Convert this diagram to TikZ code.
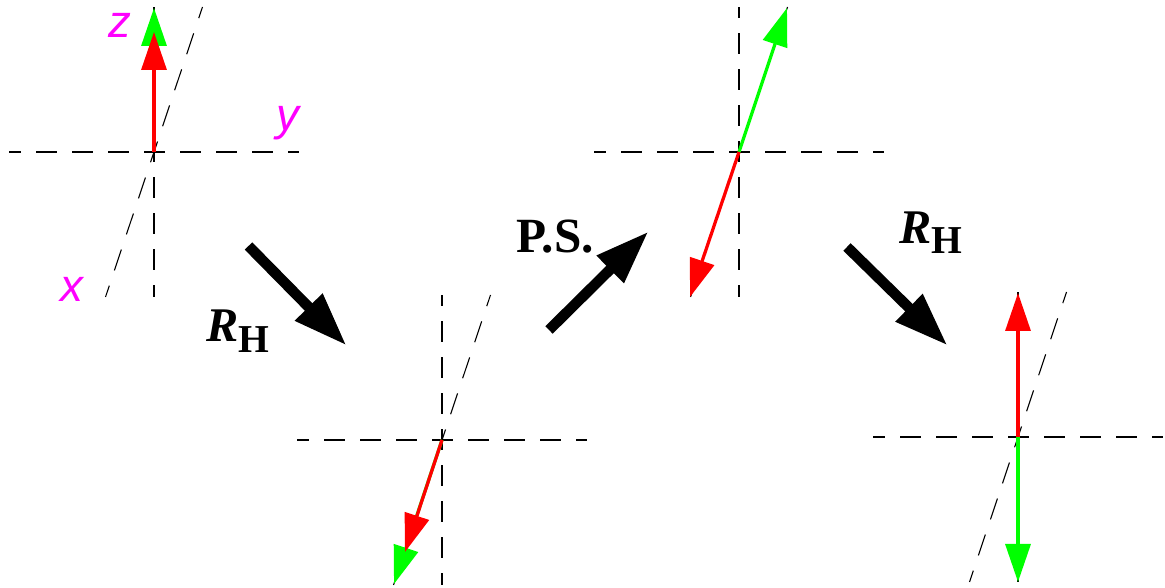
\documentclass[tikz,border=0pt]{standalone}
\usepackage{fontspec}
\setmainfont{Liberation Serif}
\setsansfont{Liberation Sans}
\usetikzlibrary{positioning,arrows.meta}
\definecolor{spinred}{RGB}{255,0,0}
\definecolor{spingreen}{RGB}{0,255,0}
\definecolor{axislabel}{RGB}{255,0,255}
\newcommand{\rhlabel}{\textbf{\textit{R}\raisebox{-6pt}{\fontsize{22.5}{22.5}\selectfont H}}}
\tikzset{
  axisline/.style={line width=0.022cm,dash pattern=on 0.42cm off 0.3cm,dash phase=0.18cm},
  obliqueline/.style={line width=0.022cm,dash pattern=on 0.44cm off 0.32cm,dash phase=0.2cm},
  redspin/.style={spinred,line width=0.065cm,-{Triangle[length=0.76cm,width=0.5cm]}},
  greenspin/.style={spingreen,line width=0.065cm,-{Triangle[length=0.76cm,width=0.5cm]}},
  bigarrow/.style={black,line width=0.21cm,-{Triangle[length=1.08cm,width=0.72cm]}},
  axisname/.style={text=axislabel,inner sep=0pt,font=\sffamily\itshape\fontsize{26}{26}\selectfont},
  oplabel/.style={inner sep=0pt,font=\fontsize{27.5}{27.5}\selectfont}
}
\begin{document}
\begin{tikzpicture}
  \useasboundingbox (0,0) rectangle (23.3,11.76);
  % origins of the four frames
  \coordinate (oA) at (3.08,8.72);
  \coordinate (oB) at (8.84,2.96);
  \coordinate (oC) at (14.78,8.72);
  \coordinate (oD) at (20.36,3.02);
  % dashed axes
  \foreach \frm in {oA,oB,oC,oD} {
    \draw[axisline] ([xshift=-2.9cm]\frm) -- ([xshift=2.9cm]\frm);
    \draw[axisline] ([yshift=-2.9cm]\frm) -- ([yshift=2.9cm]\frm);
    \draw[obliqueline] ([xshift=-0.97cm,yshift=-2.9cm]\frm) -- ([xshift=0.97cm,yshift=2.9cm]\frm);
  }
  % spin tips
  \coordinate (greenA) at (3.08,11.6);
  \coordinate (redA) at (3.08,11.12);
  \coordinate (greenB) at (7.88,0.08);
  \coordinate (redB) at (8.1,0.72);
  \coordinate (greenC) at (15.74,11.6);
  \coordinate (redC) at (13.8,5.82);
  \coordinate (greenD) at (20.36,0.12);
  \coordinate (redD) at (20.36,5.9);
  % spins
  \draw[greenspin] (oA) -- (greenA);
  \draw[redspin] (oA) -- (redA);
  \draw[greenspin] (oB) -- (greenB);
  \draw[redspin] (oB) -- (redB);
  \draw[greenspin] (oC) -- (greenC);
  \draw[redspin] (oC) -- (redC);
  \draw[greenspin] (oD) -- (greenD);
  \draw[redspin] (oD) -- (redD);
  % axis names
  \node[axisname] (nameZ) at (2.4,11.26) {z};
  \node[axisname] (nameY) at (5.76,9.3) {y};
  \node[axisname] (nameX) at (1.43,5.98) {x};
  % big arrows between the frames
  \coordinate (tailOne) at (4.97,6.84);
  \coordinate (tipOne) at (6.93,4.85);
  \coordinate (tailTwo) at (10.98,5.16);
  \coordinate (tipTwo) at (12.97,7.13);
  \coordinate (tailThree) at (16.94,6.82);
  \coordinate (tipThree) at (18.95,4.85);
  \draw[bigarrow] (tailOne) -- (tipOne);
  \draw[bigarrow] (tailTwo) -- (tipTwo);
  \draw[bigarrow] (tailThree) -- (tipThree);
  % operator labels
  \node[oplabel] (opOne) at (4.76,5.14) {\rhlabel};
  \node[oplabel,font=\bfseries\fontsize{28}{28}\selectfont] (opTwo) at (11.1,7.02) {P.S.};
  \node[oplabel] (opThree) at (18.61,7.11) {\rhlabel};
\end{tikzpicture}
\end{document}
